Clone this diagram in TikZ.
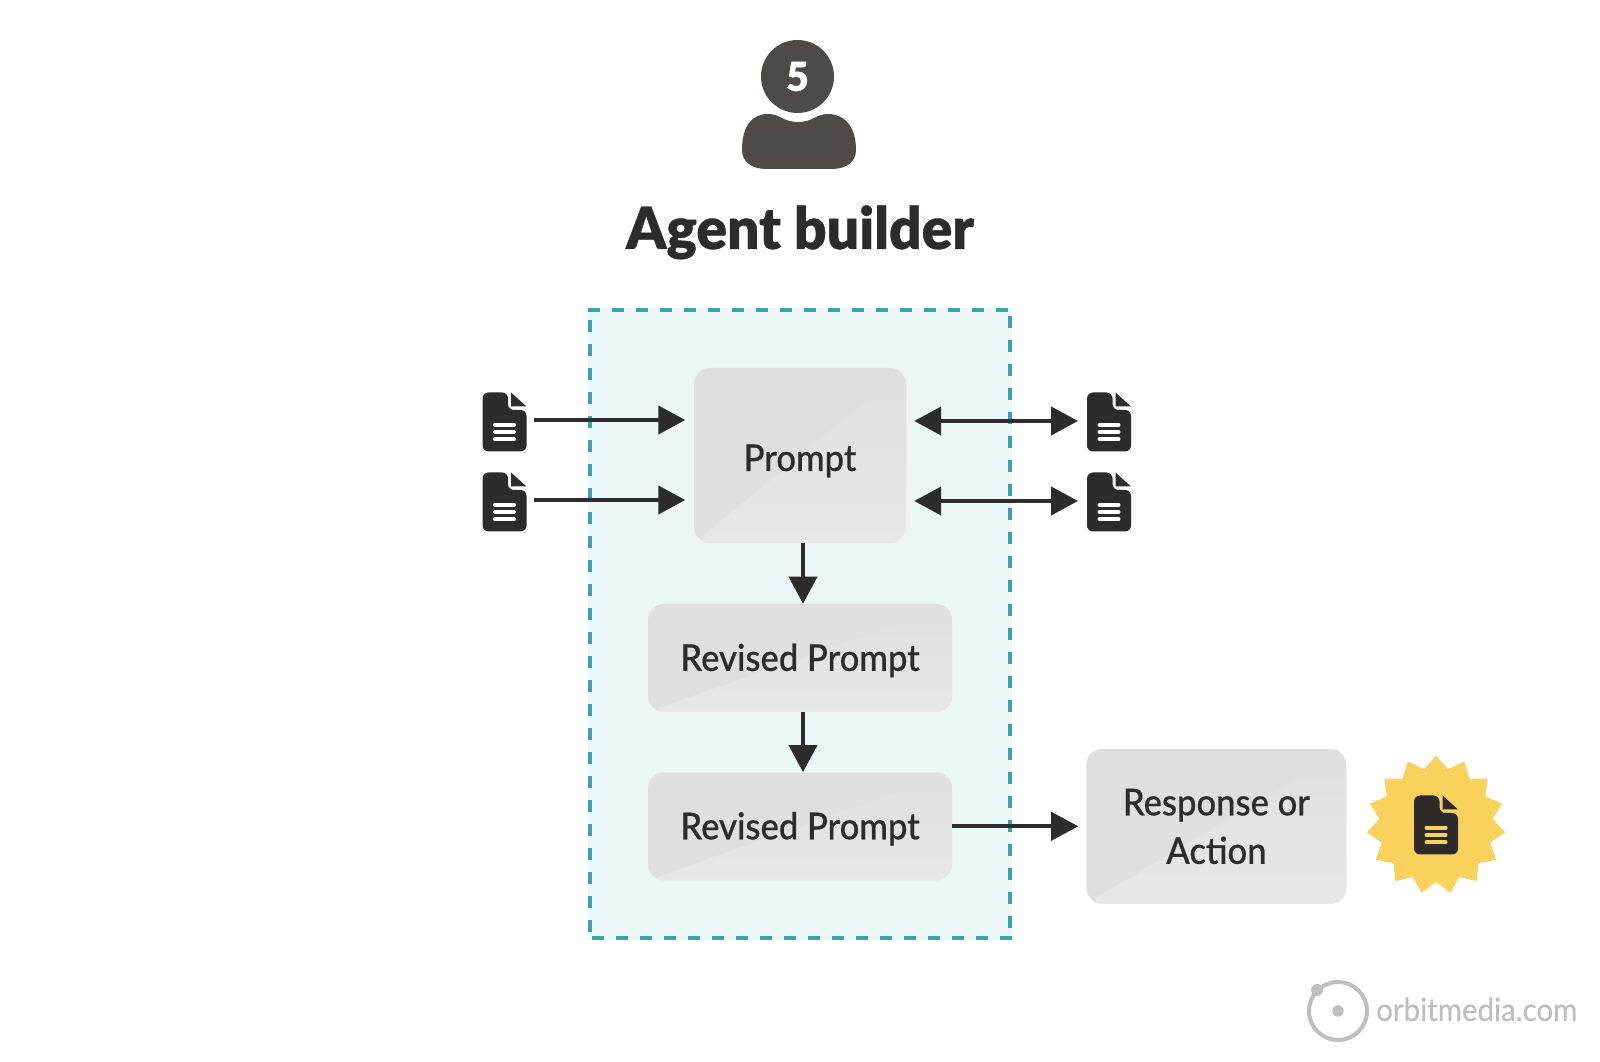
\documentclass[tikz,border=0pt]{standalone}
\usepackage{fontspec}
\setmainfont[FakeStretch=0.935,FakeBold=0.5]{Lato Medium}
\newfontfamily\titlefont[FakeStretch=0.98,FakeBold=0.6]{Lato Black}
\newfontfamily\sitefont[FakeStretch=0.92,FakeBold=0.3]{Lato}
\definecolor{colink}{RGB}{45,43,44}
\definecolor{colperson}{RGB}{78,74,72}
\definecolor{colpanel}{RGB}{235,246,247}
\definecolor{coldash}{RGB}{58,163,176}
\definecolor{colblock}{RGB}{223,223,225}
\definecolor{colfacet}{RGB}{231,231,233}
\definecolor{colsun}{RGB}{250,209,92}
\definecolor{colmark}{RGB}{190,190,190}
\usetikzlibrary{
	arrows.meta,
	positioning,
	shapes.geometric
}
\tikzset{
	>={Triangle[length=27pt,width=28pt]},
	conn/.style={line width=4pt, draw=colink},
	paneldash/.style={draw=coldash, line width=4pt, dash pattern=on 12pt off 12pt},
	blocknode/.style={
		fill=colblock, rounded corners=16pt, text=colink, align=center, inner sep=0pt,
		text depth=0pt, font=\fontsize{37}{48.5}\selectfont,
		path picture={
			\shade[bottom color=colfacet, top color=colblock]
				(path picture bounding box.south west) -- (path picture bounding box.north east)
				-- (path picture bounding box.south east) -- cycle;
		}
	},
	sunnode/.style={star, star points=15, star point ratio=1.22, fill=colsun, minimum size=139pt, inner sep=0pt}
}
% one sheet, drawn round its centre
\newcommand{\sheet}[3]{
	\begin{scope}[shift={(#1)}]
		\fill[#2, rounded corners=6pt] (-22,-29.5) -- (-22,29.5) -- (3.5,29.5) -- (3.5,12) -- (22,12) -- (22,-29.5) -- cycle;
		\fill[#2] (6.5,29.5) -- (22,15.5) -- (6.5,15.5) -- cycle;
		\foreach \d in {-2.7,-10,-17.3} {
			\draw[#3, line width=4pt, line cap=round] (-9.5,\d) -- (9.5,\d);
		}
	\end{scope}
}
\begin{document}
\begin{tikzpicture}[x=1pt, y=1pt]
	\useasboundingbox (0,0) rectangle (1600,1062);
	% person
	\node[circle, fill=colperson, minimum size=73pt, inner sep=0pt, text=white, font=\titlefont\fontsize{40}{40}\selectfont] (head) at (797.5,985.5) {5};
	\fill[colperson] (742,912) .. controls (742,936) and (752,948) .. (768,948)
		.. controls (780,948) and (783,940) .. (798,940)
		.. controls (813,940) and (816,948) .. (828,948)
		.. controls (844,948) and (856,936) .. (856,912)
		.. controls (856,900) and (846,893) .. (832,893) -- (766,893)
		.. controls (752,893) and (742,900) .. (742,912) -- cycle;
	\node[anchor=base, font=\titlefont\fontsize{58}{58}\selectfont, text=colink] (title) at (800,813) {Agent builder};
	% panel
	\fill[colpanel] (588,122) rectangle (1012,753.5);
	\draw[paneldash] (588,751.5) -- (1012,751.5);
	\draw[paneldash] (1010,746) -- (1010,126);
	\draw[paneldash] (590,742) -- (590,126);
	\draw[paneldash] (1012,124) -- (588,124);
	% blocks
	\node[blocknode, text height=31pt, minimum width=212pt, minimum height=175pt] (prompt) at (800,606.5) {Prompt};
	\node[blocknode, text height=26pt, minimum width=304pt, minimum height=108pt, below=60.5pt of prompt] (revone) {Revised Prompt};
	\node[blocknode, text height=26pt, minimum width=304pt, minimum height=108pt, below=60pt of revone] (revtwo) {Revised Prompt};
	\node[blocknode, minimum width=260pt, minimum height=155pt, right=134pt of revtwo] (response) {Response or\\Action};
	% sheets
	\coordinate (filea) at (504.5,640);
	\coordinate (fileb) at (504.5,560);
	\coordinate (filec) at (1109,640);
	\coordinate (filed) at (1109,560);
	\foreach \name in {filea,fileb,filec,filed} {
		\sheet{\name}{colink}{white}
	}
	\node[sunnode] (sun) at (1436,237) {};
	\sheet{sun}{colink}{colsun}
	% connectors
	\draw[conn, ->] ([xshift=29pt,yshift=2pt]filea) -- ([xshift=-8.5pt,yshift=2pt]filea -| prompt.west);
	\draw[conn, ->] ([xshift=29pt,yshift=2pt]fileb) -- ([xshift=-8.5pt,yshift=2pt]fileb -| prompt.west);
	\draw[conn, <->] ([xshift=8pt,yshift=1pt]filec -| prompt.east) -- ([xshift=-31pt,yshift=1pt]filec);
	\draw[conn, <->] ([xshift=8pt,yshift=1pt]filed -| prompt.east) -- ([xshift=-31pt,yshift=1pt]filed);
	\draw[conn, ->] ([xshift=3pt]prompt.south) -- ([xshift=3pt]revone.north);
	\draw[conn, ->] ([xshift=3pt]revone.south) -- ([xshift=3pt]revtwo.north);
	\draw[conn, ->] (revtwo.east) -- ([xshift=-8pt]response.west);
	% logo
	\draw[colmark, line width=4pt] (1338,51) circle (29pt);
	\fill[colmark] (1338,51) circle (5.7pt);
	\fill[colmark] (1317,72) circle (6pt);
	\node[anchor=base west, inner sep=0pt, text=colmark, font=\sitefont\fontsize{32}{32}\selectfont] (site) at (1376,41) {orbitmedia.com};
\end{tikzpicture}
\end{document}
